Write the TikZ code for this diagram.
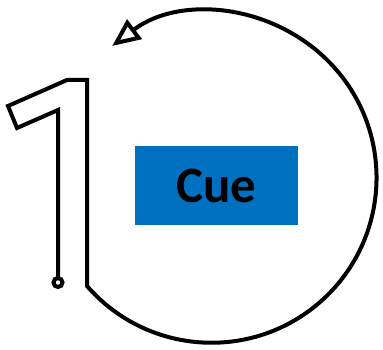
\documentclass[tikz,border=0pt]{standalone}
\usepackage{fontspec}
\setmainfont{Carlito}
\usetikzlibrary{arrows.meta}
\definecolor{cueblue}{RGB}{0,112,192}
\begin{document}
\begin{tikzpicture}[x=1pt, y=1pt, line width=4pt, line join=miter,
  cuebox/.style={fill=cueblue, minimum width=163pt, minimum height=79pt, inner sep=0pt,
    font=\fontsize{51}{60}\selectfont\bfseries}]
  \useasboundingbox (0,0) rectangle (383,350);
  \node[cuebox] (cue) at (216.5,164.5) {Cue};
  % the one and the loop back round
  \draw[{Circle[open,length=13pt,width=13pt]}-{Triangle[open,length=28pt,width=24pt]}]
    (58,61) -- (58,240) -- (17,222) -- (8,244) -- (67,270) -- (87,270) -- (87,64)
    arc[start angle=221, end angle=487, radius=165];
\end{tikzpicture}
\end{document}
